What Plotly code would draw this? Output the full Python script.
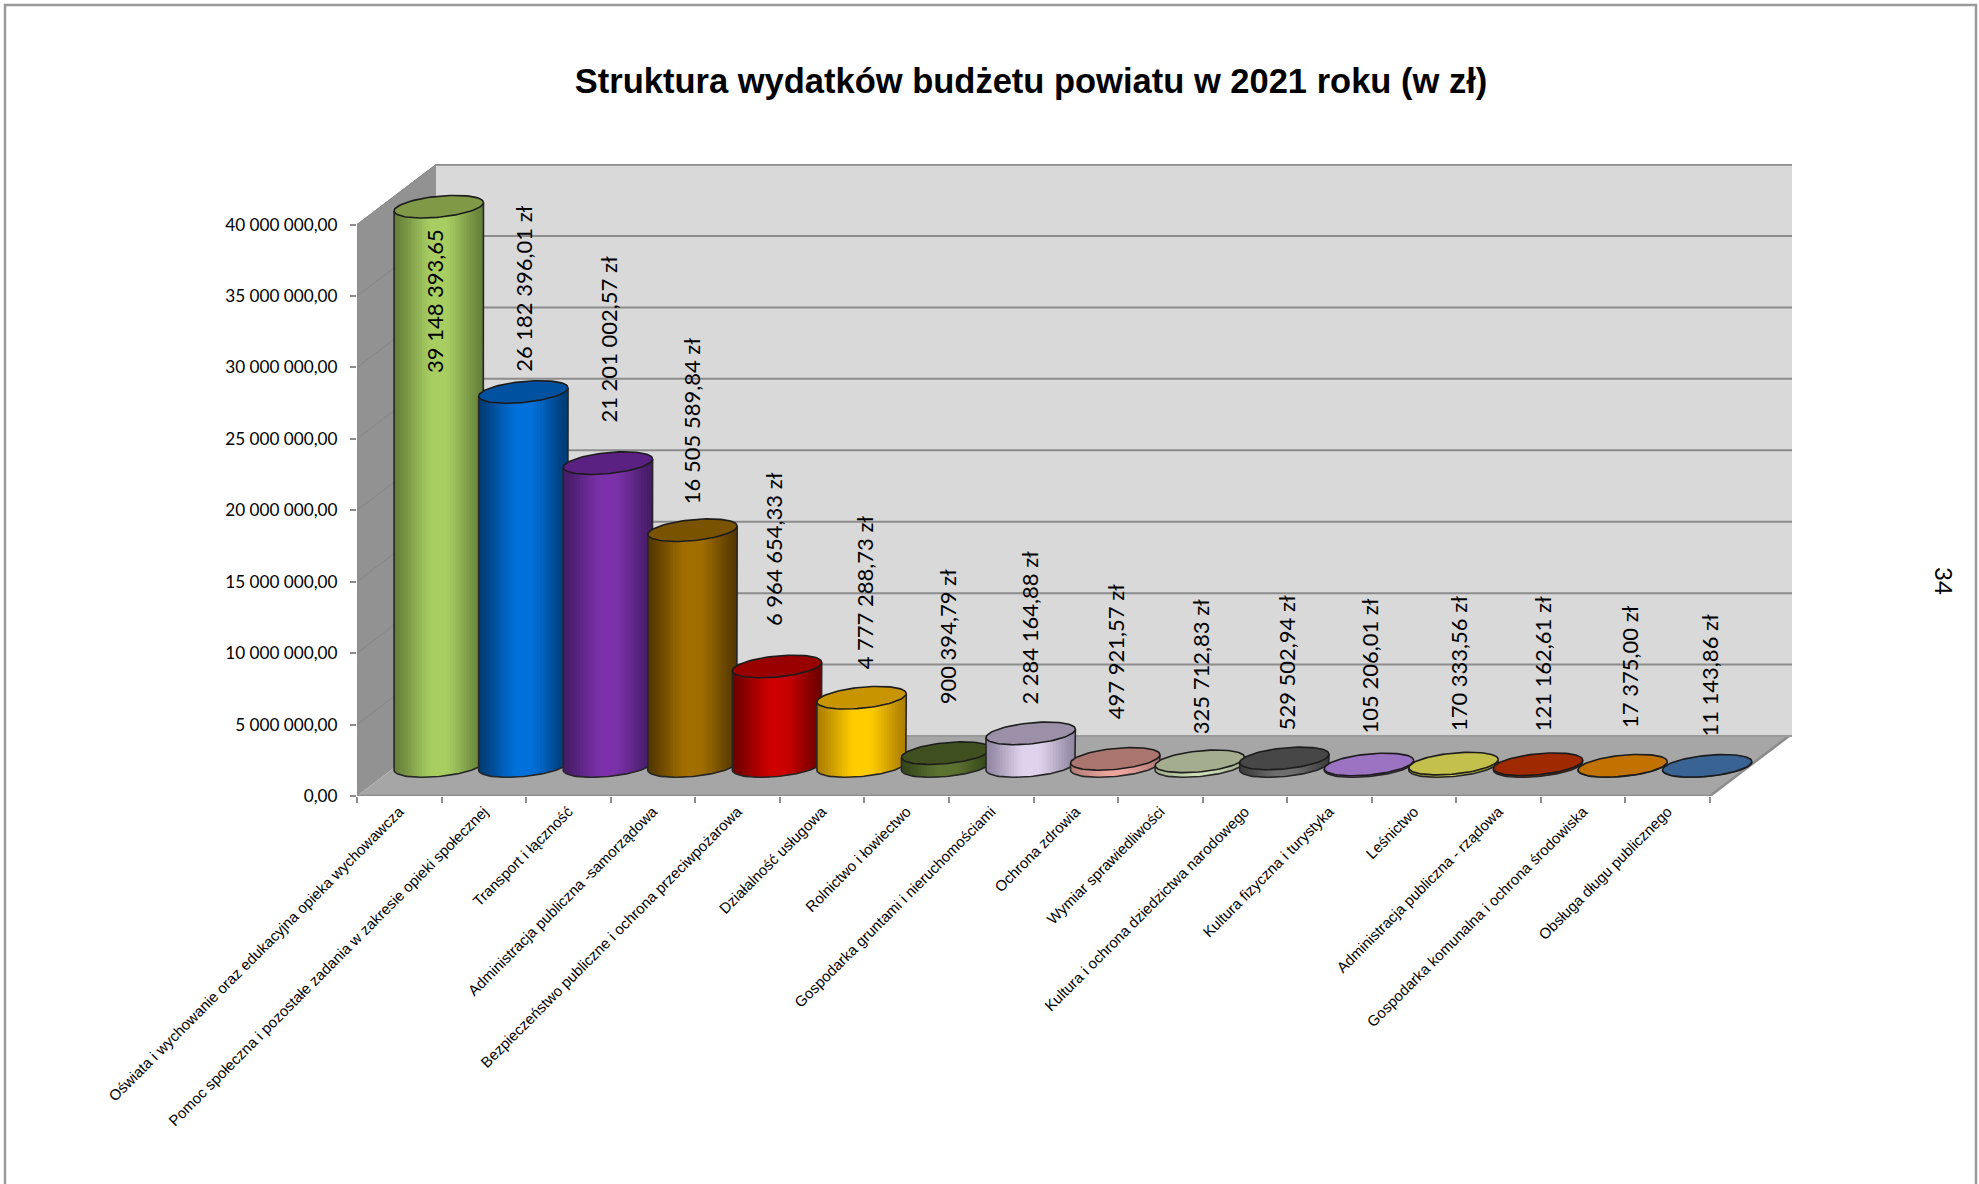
import numpy as np
import plotly.graph_objects as go

categories = [
    "Oświata i wychowanie oraz edukacyjna opieka wychowawcza",
    "Pomoc społeczna i pozostałe zadania w zakresie opieki społecznej",
    "Transport i łączność",
    "Administracja publiczna -samorządowa",
    "Bezpieczeństwo publiczne i ochrona przeciwpożarowa",
    "Działalność usługowa",
    "Rolnictwo i łowiectwo",
    "Gospodarka gruntami i nieruchomościami",
    "Ochrona zdrowia",
    "Wymiar sprawiedliwości",
    "Kultura i ochrona dziedzictwa narodowego",
    "Kultura fizyczna i turystyka",
    "Leśnictwo",
    "Administracja publiczna - rządowa",
    "Gospodarka komunalna i ochrona środowiska",
    "Obsługa długu publicznego",
]
values = [
    39148393.65, 26182396.01, 21201002.57, 16505589.84, 6964654.33, 4777288.73,
    900394.79, 2284164.88, 497921.57, 325712.83, 529502.94, 105206.01,
    170333.56, 121162.61, 17375.00, 11143.86,
]
value_units = [""] + [" zł"] * 15
y_ticks = [0, 5e6, 10e6, 15e6, 20e6, 25e6, 30e6, 35e6, 40e6]
y_tick_labels = ["0,00", "5 000 000,00", "10 000 000,00", "15 000 000,00", "20 000 000,00",
                 "25 000 000,00", "30 000 000,00", "35 000 000,00", "40 000 000,00"]
title_text = "Struktura wydatków budżetu powiatu w 2021 roku (w zł)"
page_number = "34"

# ---- styling ----
W, H = 1979, 1184
ML, MR, MT, MB = 357, 187, 164, 388
PW, PH = W - ML - MR, H - MT - MB
N = len(categories)
CAT_PX = (1710 - 357) / N
DEPTH_PX = (79, 60)
Y_MAX = 44.24e6
VAL_PX = PH / Y_MAX
XMIN, XMAX = -0.5, -0.5 + PW / CAT_PX
DX, DY = DEPTH_PX[0] / CAT_PX, DEPTH_PX[1] / VAL_PX
A = 44.7 / CAT_PX            # ellipse half-width
B = 10.5 / VAL_PX            # ellipse half-height
K = 4.2 / VAL_PX             # ellipse tilt
TXT = "#000000"
LABEL_GAPS_PX = [-167.5, 19.5, 39.5, 25.5, 39.5, 27.5, 47.5, 27.5, 38.5, 26.5, 27.5, 30.5, 31.5, 31.5, 36.5, 28.5]
LABEL_SHIFT_PX = [-5, 0, 1, -1, -4, 2.5, 1, -1, 1, 1, 2.5, 1, 5, 4, 7.5, 2.5]
# (edge colour, centre colour, cap colour)
PALETTE = [
    ("#66803a", "#a8ce62", "#7f9947"),
    ("#003c74", "#0070da", "#00519f"),
    ("#451c66", "#7b31aa", "#5a2183"),
    ("#553800", "#a16e00", "#7a5300"),
    ("#700000", "#cc0000", "#990000"),
    ("#ae8000", "#ffcc00", "#c89500"),
    ("#34461a", "#5c7230", "#3f4f20"),
    ("#9388a4", "#dfd2ec", "#9b90a8"),
    ("#b57d78", "#eba39d", "#ab756f"),
    ("#a3b08e", "#ccdcb6", "#a4ae8e"),
    ("#3e3e3e", "#6e6e6e", "#474747"),
    ("#6d4c93", "#a474cc", "#9c72c2"),
    ("#8a8832", "#c8c44e", "#c4c04c"),
    ("#6e1c00", "#a82a00", "#a02a00"),
    ("#8a5000", "#c87800", "#c27200"),
    ("#244468", "#3a6698", "#396393"),
]
LEVELS = 16


def hex_rgb(c):
    return np.array([int(c[i:i + 2], 16) for i in (1, 3, 5)], float)


def mix(c1, c2, m):
    r = hex_rgb(c1) * (1 - m) + hex_rgb(c2) * m
    return "rgb(%d,%d,%d)" % tuple(r.round())


def fmt(v):
    return f"{v:,.2f}".replace(",", " ").replace(".", ",")


fig = go.Figure()


def poly(x, y, fill=None, line=None, lw=0):
    fig.add_trace(go.Scatter(
        x=x, y=y, mode="lines", hoverinfo="skip", showlegend=False,
        fill="toself" if fill else "none", fillcolor=fill,
        line=dict(color=line or "rgba(0,0,0,0)", width=lw),
    ))


# walls and floor
left, right = XMIN, XMIN + N
poly([left, left + DX, left + DX, left, left], [0, DY, 40e6 + DY, 40e6, 0], "#929292")
poly([left + DX, XMAX, XMAX, left + DX, left + DX], [DY, DY, Y_MAX, Y_MAX, DY], "#d9d9d9")
poly([left, right, right + DX, left + DX, left], [0, 0, DY, DY, 0], "#a6a6a6")
# side wall grid
gx, gy = [], []
for v in y_ticks[1:]:
    gx += [left, left + DX, None]
    gy += [v, v + DY, None]
poly(gx, gy, None, "#868686", 1)
# back wall grid
gx, gy = [], []
for v in y_ticks[1:]:
    gx += [left + DX, XMAX, None]
    gy += [v + DY, v + DY, None]
poly(gx, gy, None, "#8c8c8c", 2)
poly([left + DX, XMAX], [Y_MAX, Y_MAX], None, "#8c8c8c", 3)
poly([left, left], [0, 40e6], None, "#8c8c8c", 1.5)
poly([left, right, right + DX], [0, 0, DY], None, "#8c8c8c", 2.5)
poly([left, left + DX], [40e6, 40e6 + DY], None, "#8c8c8c", 1)
poly([left + DX, XMAX], [DY, DY], None, "#9a9a9a", 2)

# cylinders
annotations = []
for i, (cat, val) in enumerate(zip(categories, values)):
    edge, centre, cap = PALETTE[i]
    cx = i + DX / 2
    base = DY / 2
    top = base + val
    for lv in range(LEVELS):
        s = 1 - lv / LEVELS
        m = min(1.0, (1 - s) / 0.8)
        m = m * m * (3 - 2 * m) * 0.35 + m * 0.65
        w = A * s
        t = np.linspace(-w, w, 41) / A
        lower = base + K * t - B * np.sqrt(np.clip(1 - t * t, 0, 1))
        xs = cx + A * t
        px = np.r_[xs, xs[::-1], xs[0]]
        py = np.r_[lower, (top + K * t)[::-1], lower[0]]
        poly(px, py, mix(edge, centre, m))
    # outline of the side and the bottom arc
    th = np.linspace(0, np.pi, 61)
    ox = cx + A * np.cos(th)
    oy = base + K * np.cos(th) - B * np.sin(th)
    poly(np.r_[cx + A, ox, cx - A], np.r_[top + K, oy, top - K], None, "#262626", 1.6)
    # cap
    th = np.linspace(0, 2 * np.pi, 91)
    poly(cx + A * np.cos(th), top + K * np.cos(th) + B * np.sin(th), cap, "#1c1c1c", 1.6)
    annotations.append(dict(
        x=cx + LABEL_SHIFT_PX[i] / CAT_PX, y=top + LABEL_GAPS_PX[i] / VAL_PX, xref="x", yref="y",
        text=fmt(val) + value_units[i], textangle=-90, showarrow=False,
        xanchor="center", yanchor="bottom", borderpad=0,
        font=dict(family="Lato", size=22, color=TXT),
    ))

annotations.append(dict(
    x=(1945 - ML) / PW, y=1 - (581 - MT) / PH, xref="paper", yref="paper",
    text=page_number, textangle=90, showarrow=False, xanchor="center", yanchor="middle",
    font=dict(family="Lato", size=24, color=TXT),
))


def px_x(p):
    return (p - ML) / PW


def px_y(p):
    return 1 - (p - MT) / PH


fig.update_layout(
    width=W, height=H, autosize=False,
    margin=dict(l=ML, r=MR, t=MT, b=MB, pad=0),
    paper_bgcolor="white", plot_bgcolor="white", showlegend=False,
    title=dict(text=f"<b>{title_text}</b>", x=1031 / W, xanchor="center", xref="container",
               y=1 - 81 / H, yanchor="middle", yref="container",
               font=dict(family="Liberation Sans", size=34.5, color=TXT)),
    annotations=annotations,
    shapes=[dict(type="rect", xref="paper", yref="paper", layer="below",
                 x0=px_x(5), x1=px_x(1976), y0=px_y(1200), y1=px_y(5),
                 line=dict(color="#9a9a9a", width=2.5), fillcolor="rgba(0,0,0,0)")],
    xaxis=dict(range=[XMIN, XMAX], tickmode="array", tickvals=list(range(N)), ticktext=categories,
               tickangle=-45, ticks="", showgrid=False, zeroline=False, showline=False,
               ticklabelstandoff=3,
               tickfont=dict(family="Liberation Sans", size=15, color=TXT), automargin=False,
               minor=dict(tickmode="array", tickvals=[XMIN + j for j in range(N + 1)], ticks="outside",
                          ticklen=6, tickcolor="#8c8c8c", tickwidth=1.5, showgrid=False)),
    yaxis=dict(range=[0, Y_MAX], tickmode="array", tickvals=y_ticks, ticktext=y_tick_labels,
               ticks="outside", ticklen=6, tickcolor="#8c8c8c", tickwidth=1.5, showgrid=False,
               zeroline=False, showline=False, automargin=False, ticklabelstandoff=9,
               tickfont=dict(family="Lato", size=17.2, color=TXT)),
)
fig.write_html("out.html", config={"displayModeBar": False},
               post_script="document.body.style.margin='0';")
